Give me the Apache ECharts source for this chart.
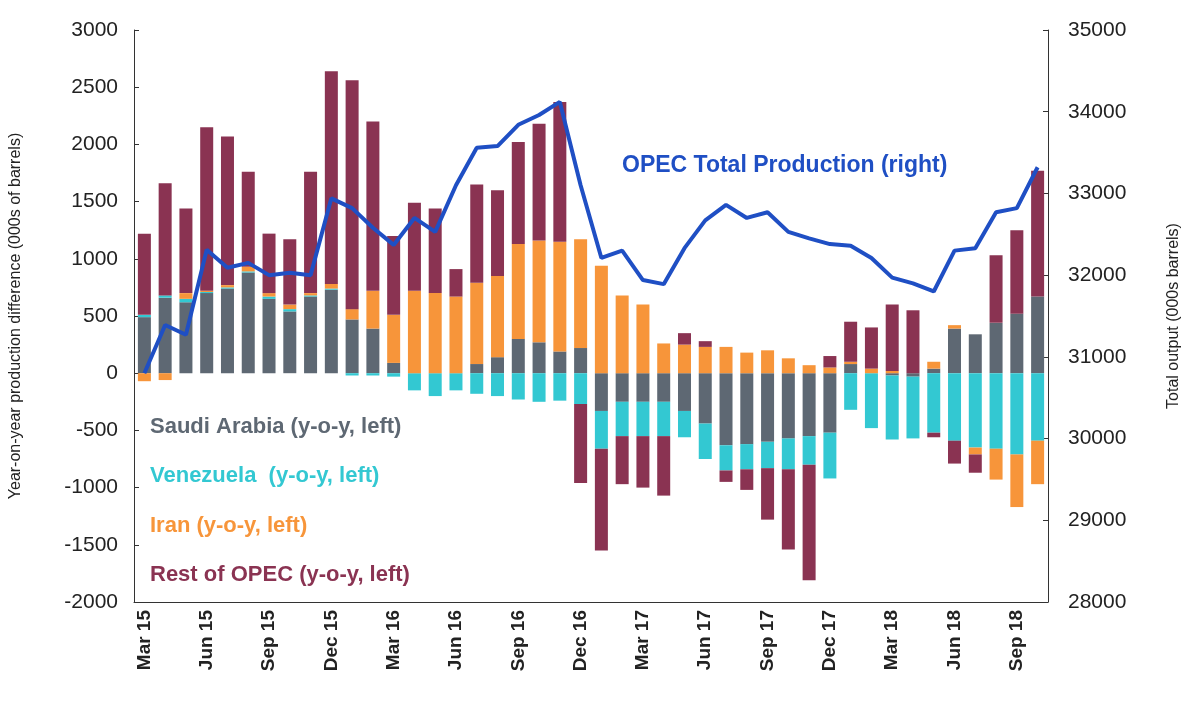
<!DOCTYPE html>
<html>
<head>
<meta charset="utf-8">
<script src="https://cdn.jsdelivr.net/npm/echarts@6/dist/echarts.min.js"></script>
<style>html,body{margin:0;background:#fff}#main{width:1200px;height:726px}</style>
</head>
<body>
<div id="main"></div>
<script>
var months = ['Mar', 'Apr', 'May', 'Jun', 'Jul', 'Aug', 'Sep', 'Oct', 'Nov', 'Dec', 'Jan', 'Feb'];
var categories = [];
for (var i = 0; i < 44; i++) {
  var m = months[i % 12];
  var yr = 15 + Math.floor((i + 2) / 12);
  categories.push(m + ' ' + yr);
}

var saudi = [490,660,620,700,740,880,650,540,670,730,470,390,90,0,0,0,80,140,300,270,190,220,
  -330,-250,-250,-250,-330,-440,-630,-620,-600,-570,-550,-520,80,0,-20,-30,40,390,340,440,520,670];
var venezuela = [20,20,30,10,10,10,20,20,10,10,-20,-20,-30,-150,-200,-150,-180,-200,-230,-250,-240,-270,
  -330,-300,-300,-300,-230,-310,-220,-220,-230,-270,-250,-400,-320,-480,-560,-540,-520,-590,-650,-660,-710,-590];
var iran = [-70,-60,50,10,20,40,30,40,20,40,90,330,420,720,700,670,710,710,830,890,960,950,
  940,680,600,260,250,230,230,180,200,130,70,50,20,40,20,0,60,30,-60,-270,-460,-380];
var restOfOpec = [710,980,740,1430,1300,830,520,570,1060,1860,2000,1480,690,770,740,240,860,750,890,1020,1220,-690,
  -890,-420,-450,-520,100,50,-100,-180,-450,-700,-1010,100,350,360,580,550,-40,-200,-160,590,730,1100];
var opecTotal = [30800,31390,31270,32310,32090,32150,32000,32030,32000,32940,32820,32580,32370,32700,32530,33100,33560,33580,33840,33960,
  34120,33100,32210,32300,31940,31890,32330,32670,32860,32700,32770,32530,32450,32380,32360,32210,31970,31900,31800,32300,
  32330,32770,32820,33320];

var colors = {sa: '#5e6873', ve: '#33c8d2', ir: '#f7953a', ro: '#8a3352', line: '#1f4fc4'};

var myChart = echarts.init(document.getElementById('main'));

function barSeries(name, data, color) {
  return {name: name, type: 'bar', stack: 'opec', data: data, barWidth: 13,
    itemStyle: {color: color}, yAxisIndex: 0};
}

function plain(v) { return String(v); }

var option = {
  animation: false,
  grid: {left: 133, right: 152, top: 30, bottom: 124},
  xAxis: {
    type: 'category', data: categories,
    axisLine: {lineStyle: {color: '#333'}, onZero: false},
    axisTick: {show: false},
    axisLabel: {rotate: 90, interval: 2, fontSize: 19, fontWeight: 'bold', color: '#222', fontFamily: 'Liberation Sans'}
  },
  yAxis: [{
    type: 'value', min: -2000, max: 3000, interval: 500,
    name: 'Year-on-year production difference (000s of barrels)',
    nameLocation: 'middle', nameGap: 110, nameTextStyle: {fontSize: 16, color: '#222'},
    splitLine: {show: false},
    axisLine: {show: true, lineStyle: {color: '#333'}},
    axisTick: {show: true, inside: true},
    axisLabel: {fontSize: 21, color: '#222', margin: 16, formatter: plain}
  }, {
    type: 'value', min: 28000, max: 35000, interval: 1000,
    name: 'Total output (000s barrels)',
    nameLocation: 'middle', nameGap: 118, nameRotate: 90, nameTextStyle: {fontSize: 16, color: '#222'},
    splitLine: {show: false},
    axisLine: {show: true, lineStyle: {color: '#333'}},
    axisTick: {show: true, inside: true},
    axisLabel: {fontSize: 21, color: '#222', margin: 20, formatter: plain}
  }],
  series: [
    barSeries('Saudi Arabia', saudi, colors.sa),
    barSeries('Venezuela', venezuela, colors.ve),
    barSeries('Iran', iran, colors.ir),
    barSeries('Rest of OPEC', restOfOpec, colors.ro),
    {name: 'OPEC Total Production', type: 'line', yAxisIndex: 1, data: opecTotal,
      symbol: 'none', lineStyle: {color: colors.line, width: 4}, z: 5}
  ],
  graphic: [
    {type: 'text', left: 150, top: 416, style: {text: 'Saudi Arabia (y-o-y, left)', fill: colors.sa, font: 'bold 22px "Liberation Sans"'}},
    {type: 'text', left: 150, top: 465, style: {text: 'Venezuela  (y-o-y, left)', fill: colors.ve, font: 'bold 22px "Liberation Sans"'}},
    {type: 'text', left: 150, top: 515, style: {text: 'Iran (y-o-y, left)', fill: colors.ir, font: 'bold 22px "Liberation Sans"'}},
    {type: 'text', left: 150, top: 564, style: {text: 'Rest of OPEC (y-o-y, left)', fill: colors.ro, font: 'bold 22px "Liberation Sans"'}},
    {type: 'text', left: 622, top: 154, style: {text: 'OPEC Total Production (right)', fill: colors.line, font: 'bold 23px "Liberation Sans"'}}
  ]
};

myChart.setOption(option);
</script>
</body>
</html>
